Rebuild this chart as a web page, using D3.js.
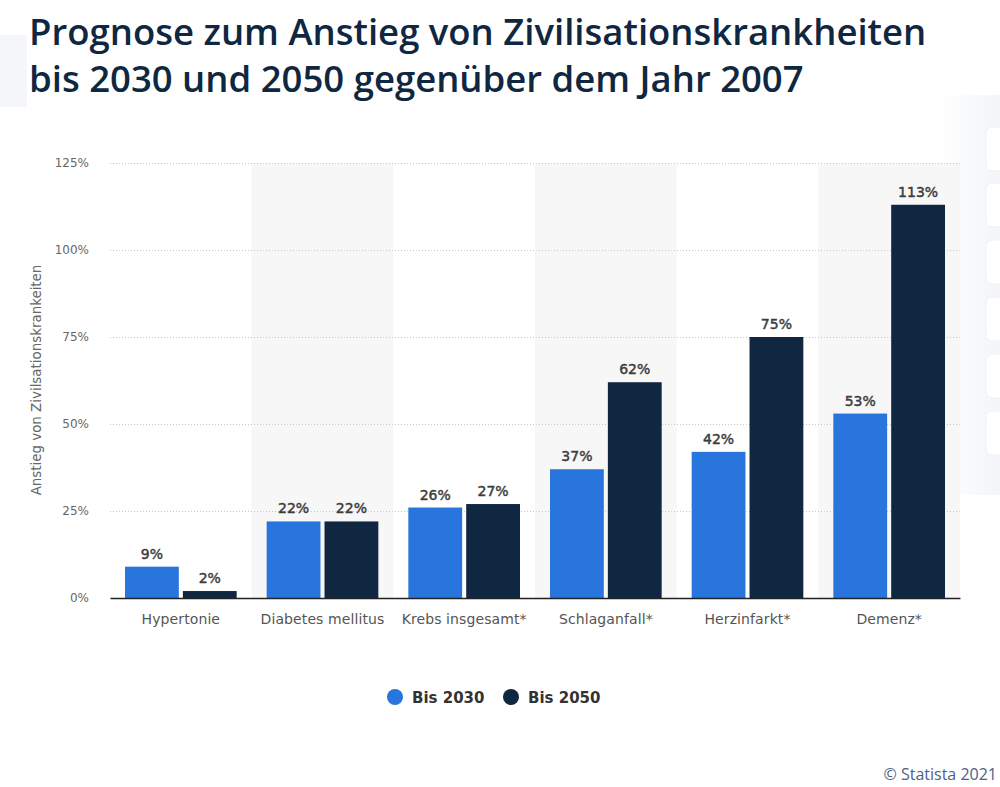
<!DOCTYPE html>
<html><head><meta charset="utf-8">
<script src="https://cdn.jsdelivr.net/npm/d3@7"></script>
<style>body{margin:0;background:#fff;}svg{display:block;}</style>
</head><body>
<svg id="c" width="1000" height="787"></svg>
<script>
const categories = ["Hypertonie","Diabetes mellitus","Krebs insgesamt*","Schlaganfall*","Herzinfarkt*","Demenz*"];
const seriesNames = ["Bis 2030","Bis 2050"];
const values2030 = [9,22,26,37,42,53];
const values2050 = [2,22,27,62,75,113];
const yTicks = [0,25,50,75,100,125];
const colors = ["#2876dd","#0f2740"];
const titleLines = ["Prognose zum Anstieg von Zivilisationskrankheiten","bis 2030 und 2050 gegenüber dem Jahr 2007"];
const yTitle = "Anstieg von Zivilsationskrankeiten";

const svg = d3.select("#c");
// faint page decorations
const defs = svg.append("defs");
const g1 = defs.append("linearGradient").attr("id","fadeR").attr("x1","0").attr("x2","1");
g1.append("stop").attr("offset","0").attr("stop-color","#fff");
g1.append("stop").attr("offset","1").attr("stop-color","#f3f5f8");
svg.append("rect").attr("x",0).attr("y",35).attr("width",27).attr("height",72).attr("fill","#f4f6f9");
svg.append("rect").attr("x",940).attr("y",95).attr("width",60).attr("height",400).attr("fill","url(#fadeR)");
svg.append("rect").attr("x",28).attr("y",0).attr("width",912).attr("height",108).attr("fill","#fff");
const btnY = [127,183,240,297,354,411];
svg.selectAll("rect.btn").data(btnY).join("rect").attr("class","btn")
  .attr("x",986).attr("y",d=>d).attr("width",30).attr("height",44).attr("rx",6)
  .attr("fill","#fff").attr("stroke","#eef0f3");

// title
svg.selectAll("text.title").data(titleLines).join("text").attr("class","title")
  .attr("x",29).attr("y",(d,i)=>45+i*47)
  .attr("font-family","Open Sans").attr("font-weight",600).attr("font-size",36.5)
  .attr("fill","#0f2741").text(d=>d);

const pLeft=110, pRight=960, pTop=163, pBottom=598;
const x0 = d3.scaleBand().domain(categories).range([pLeft,pRight]);
const x1 = d3.scaleBand().domain(seriesNames).range([15, x0.bandwidth()-15]).paddingInner(0.07);
const y = d3.scaleLinear().domain([0,125]).range([pBottom,pTop]);

// alternating shading
svg.selectAll("rect.shade").data(categories.filter((d,i)=>i%2===1)).join("rect").attr("class","shade")
  .attr("x",d=>x0(d)).attr("y",pTop).attr("width",x0.bandwidth()).attr("height",pBottom-pTop)
  .attr("fill","#f7f7f7");

// grid
const grid = svg.append("g").attr("transform",`translate(${pLeft},0)`)
  .call(d3.axisLeft(y).tickValues(yTicks).tickSize(-(pRight-pLeft)).tickFormat(d=>d+"%"));
grid.select(".domain").remove();
grid.selectAll(".tick line").attr("stroke","#c8c8c8").attr("stroke-dasharray","1,2")
  .attr("display",d=>d===0?"none":null);
grid.selectAll(".tick text").attr("x",-21).attr("font-family","DejaVu Sans").attr("font-size",12).attr("fill","#666");

// bars
const data = categories.map((c,i)=>({cat:c, vals:[values2030[i],values2050[i]]}));
const grp = svg.selectAll("g.grp").data(data).join("g").attr("class","grp")
  .attr("transform",d=>`translate(${x0(d.cat)},0)`);
grp.selectAll("rect").data(d=>d.vals.map((v,j)=>({s:seriesNames[j],v,j}))).join("rect")
  .attr("x",d=>x1(d.s)).attr("y",d=>y(d.v)).attr("width",x1.bandwidth()).attr("height",d=>pBottom-y(d.v))
  .attr("fill",d=>colors[d.j]);
grp.selectAll("text").data(d=>d.vals.map((v,j)=>({s:seriesNames[j],v,j}))).join("text")
  .attr("x",d=>x1(d.s)+x1.bandwidth()/2).attr("y",d=>y(d.v)-8).attr("text-anchor","middle")
  .attr("font-family","DejaVu Sans").attr("font-size",14).attr("fill","#3c3c3c")
  .attr("stroke","#3c3c3c").attr("stroke-width",0.45)
  .text(d=>d.v+"%");

// x axis
const xa = svg.append("g").attr("transform",`translate(0,${pBottom})`).call(d3.axisBottom(x0).tickSize(0));
xa.select(".domain").attr("stroke","#222").attr("stroke-width",1.5);
xa.selectAll(".tick text").attr("dy",0).attr("y",26).attr("font-family","DejaVu Sans").attr("font-size",14)
  .attr("letter-spacing",0.1).attr("fill","#555");

// y title
svg.append("text").attr("transform","translate(41,380) rotate(-90)").attr("text-anchor","middle")
  .attr("font-family","DejaVu Sans").attr("font-size",13.4).attr("fill","#666").text(yTitle);

// legend
const legX = [395,511];
const leg = svg.selectAll("g.leg").data(seriesNames).join("g").attr("class","leg")
  .attr("transform",(d,i)=>`translate(${legX[i]},697)`);
leg.append("circle").attr("r",8).attr("fill",(d,i)=>colors[i]);
leg.append("text").attr("x",17).attr("y",6).attr("font-family","DejaVu Sans").attr("font-weight","bold")
  .attr("font-size",15).attr("fill","#333").text(d=>d);

// copyright
svg.append("text").attr("x",997).attr("y",780).attr("text-anchor","end")
  .attr("font-family","Open Sans").attr("font-size",16).attr("fill","#4c6283").text("© Statista 2021");
</script>
</body></html>
